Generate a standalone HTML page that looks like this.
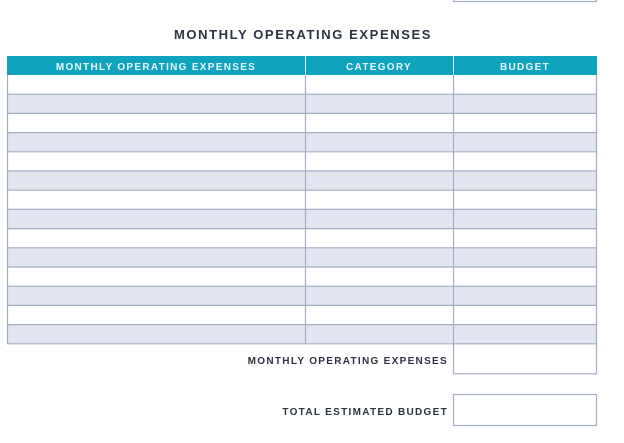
<!DOCTYPE html>
<html><head><style>
html,body{margin:0;padding:0;background:#fff;width:624px;height:443px;overflow:hidden}
svg{display:block}
text{font-family:"Liberation Sans",sans-serif;font-weight:bold}
</style></head><body>
<svg width="624" height="443" viewBox="0 0 624 443">
<rect x="453.5" y="-5" width="143" height="6.5" fill="#fff" stroke="#a3aec4" stroke-width="1.2"/>
<text x="303" y="39" text-anchor="middle" font-size="13" fill="#2b3340" letter-spacing="1.6">MONTHLY OPERATING EXPENSES</text>
<rect x="7" y="56" width="590" height="19" fill="#10a3bd"/>
<line x1="305.5" y1="56" x2="305.5" y2="75" stroke="#e6f5f8" stroke-width="1"/>
<line x1="453.5" y1="56" x2="453.5" y2="75" stroke="#e6f5f8" stroke-width="1"/>
<text x="156" y="70" text-anchor="middle" font-size="10" fill="#eaf7fa" letter-spacing="1.3">MONTHLY OPERATING EXPENSES</text>
<text x="379" y="70" text-anchor="middle" font-size="10" fill="#eaf7fa" letter-spacing="1.3">CATEGORY</text>
<text x="525" y="70" text-anchor="middle" font-size="10" fill="#eaf7fa" letter-spacing="1.3">BUDGET</text>
<g id="rows">
<rect x="7.5" y="75" width="589" height="19.2" fill="#fff"/>
<rect x="7.5" y="94.2" width="589" height="19.2" fill="#e3e6ef"/>
<rect x="7.5" y="113.4" width="589" height="19.2" fill="#fff"/>
<rect x="7.5" y="132.6" width="589" height="19.2" fill="#e3e6ef"/>
<rect x="7.5" y="151.8" width="589" height="19.2" fill="#fff"/>
<rect x="7.5" y="171" width="589" height="19.2" fill="#e3e6ef"/>
<rect x="7.5" y="190.2" width="589" height="19.2" fill="#fff"/>
<rect x="7.5" y="209.4" width="589" height="19.2" fill="#e3e6ef"/>
<rect x="7.5" y="228.6" width="589" height="19.2" fill="#fff"/>
<rect x="7.5" y="247.8" width="589" height="19.2" fill="#e3e6ef"/>
<rect x="7.5" y="267" width="589" height="19.2" fill="#fff"/>
<rect x="7.5" y="286.2" width="589" height="19.2" fill="#e3e6ef"/>
<rect x="7.5" y="305.4" width="589" height="19.2" fill="#fff"/>
<rect x="7.5" y="324.6" width="589" height="19.2" fill="#e3e6ef"/>
</g>
<g stroke="#a3aec4" stroke-width="1.2">
<line x1="7" y1="94.2" x2="597" y2="94.2"/>
<line x1="7" y1="113.4" x2="597" y2="113.4"/>
<line x1="7" y1="132.6" x2="597" y2="132.6"/>
<line x1="7" y1="151.8" x2="597" y2="151.8"/>
<line x1="7" y1="171" x2="597" y2="171"/>
<line x1="7" y1="190.2" x2="597" y2="190.2"/>
<line x1="7" y1="209.4" x2="597" y2="209.4"/>
<line x1="7" y1="228.6" x2="597" y2="228.6"/>
<line x1="7" y1="247.8" x2="597" y2="247.8"/>
<line x1="7" y1="267" x2="597" y2="267"/>
<line x1="7" y1="286.2" x2="597" y2="286.2"/>
<line x1="7" y1="305.4" x2="597" y2="305.4"/>
<line x1="7" y1="324.6" x2="597" y2="324.6"/>
<line x1="7" y1="343.8" x2="453" y2="343.8"/>
<line x1="7.5" y1="75" x2="7.5" y2="344"/>
<line x1="305.5" y1="75" x2="305.5" y2="344"/>
<line x1="453.5" y1="75" x2="453.5" y2="344"/>
<line x1="596.5" y1="75" x2="596.5" y2="344"/>
</g>
<rect x="453.5" y="343.8" width="143" height="30" fill="#fff" stroke="#a3aec4" stroke-width="1.2"/>
<rect x="453.5" y="394.5" width="143" height="31" fill="#fff" stroke="#a3aec4" stroke-width="1.2"/>
<text x="448" y="364" text-anchor="end" font-size="10" fill="#2b3340" letter-spacing="1.3">MONTHLY OPERATING EXPENSES</text>
<text x="448" y="415" text-anchor="end" font-size="10" fill="#2b3340" letter-spacing="1.3">TOTAL ESTIMATED BUDGET</text>
</svg>
</body></html>
